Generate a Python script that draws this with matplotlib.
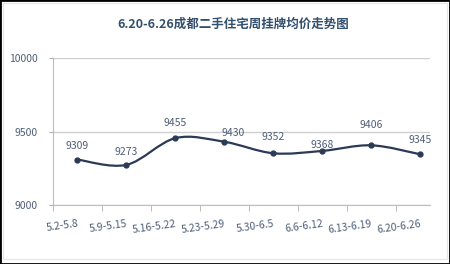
import matplotlib.pyplot as plt
from matplotlib.path import Path
from matplotlib.patches import PathPatch, Rectangle
import numpy as np

plt.rcParams['font.family'] = ['Noto Sans CJK SC', 'DejaVu Sans']

# data
weeks = ['5.2-5.8', '5.9-5.15', '5.16-5.22', '5.23-5.29',
         '5.30-6.5', '6.6-6.12', '6.13-6.19', '6.20-6.26']
prices = [9309, 9273, 9455, 9430, 9352, 9368, 9406, 9345]
title = '6.20-6.26成都二手住宅周挂牌均价走势图'

# label offsets (points) above each marker
label_dy = [6, 6, 7, 3, 8, 1, 11, 7]
label_dx = [0, 0, 0, 6, 0, 0, 0, 0]

line_c = '#2b3a55'
text_c = '#4e5f78'
grid_c = '#cfcfcf'

fig = plt.figure(figsize=(4.5, 2.64), dpi=100)
ax = fig.add_axes([53 / 450, 59 / 264, 377 / 450, 147 / 264])

x = np.arange(len(weeks))
y = np.array(prices, dtype=float)

# smoothed line (Catmull-Rom -> cubic Bezier), like Excel's smoothed line
verts = [(x[0], y[0])]
codes = [Path.MOVETO]
t = 1 / 6
for i in range(len(x) - 1):
    p0 = (x[max(i - 1, 0)], y[max(i - 1, 0)])
    p1 = (x[i], y[i])
    p2 = (x[i + 1], y[i + 1])
    p3 = (x[min(i + 2, len(x) - 1)], y[min(i + 2, len(x) - 1)])
    c1 = (p1[0] + (p2[0] - p0[0]) * t, p1[1] + (p2[1] - p0[1]) * t)
    c2 = (p2[0] - (p3[0] - p1[0]) * t, p2[1] - (p3[1] - p1[1]) * t)
    verts += [c1, c2, p2]
    codes += [Path.CURVE4] * 3
ax.add_patch(PathPatch(Path(verts, codes), facecolor='none',
                       edgecolor=line_c, lw=1.6, zorder=3))
ax.plot(x, y, 'o', color=line_c, ms=3.5, zorder=4)

for xi, yi, dx, dy in zip(x, prices, label_dx, label_dy):
    ax.annotate(str(yi), (xi, yi), xytext=(dx, dy), textcoords='offset points',
                ha='center', va='bottom', fontsize=7.5, color=text_c)

ax.set_xlim(-0.5, 7.2)
ax.set_ylim(9000, 10000)
ax.set_yticks([9000, 9500, 10000])
ax.yaxis.grid(True, color=grid_c, lw=1)
ax.set_axisbelow(True)
ax.tick_params(axis='y', length=3, color='#b0b0b0', labelsize=7.5,
               labelcolor=text_c, pad=8)

ax.set_xticks(x)
ax.set_xticklabels(weeks, rotation=8, ha='right', va='top',
                   rotation_mode='anchor', fontsize=7.5, color=text_c)
ax.tick_params(axis='x', which='major', length=0, pad=10)
ax.set_xticks(np.arange(-0.5, 7.5, 1), minor=True)
ax.tick_params(axis='x', which='minor', length=4, color='#b0b0b0')

for s in ['top', 'right']:
    ax.spines[s].set_visible(False)
for s in ['left', 'bottom']:
    ax.spines[s].set_color('#bdbdbd')

fig.text(233 / 450, 1 - 24 / 264, title, ha='center', va='center',
         fontsize=9, fontweight='bold', color='#34506f')

# image frame
fig.patches.append(Rectangle((0, 0), 1, 1, transform=fig.transFigure,
                             fill=False, edgecolor='black', lw=2))
fig.patches.append(Rectangle((3 / 450, 5 / 264), 444 / 450, 256 / 264,
                             transform=fig.transFigure, fill=False,
                             edgecolor='#e6e6e6', lw=0.8))

fig.savefig('out.png', dpi=100)
